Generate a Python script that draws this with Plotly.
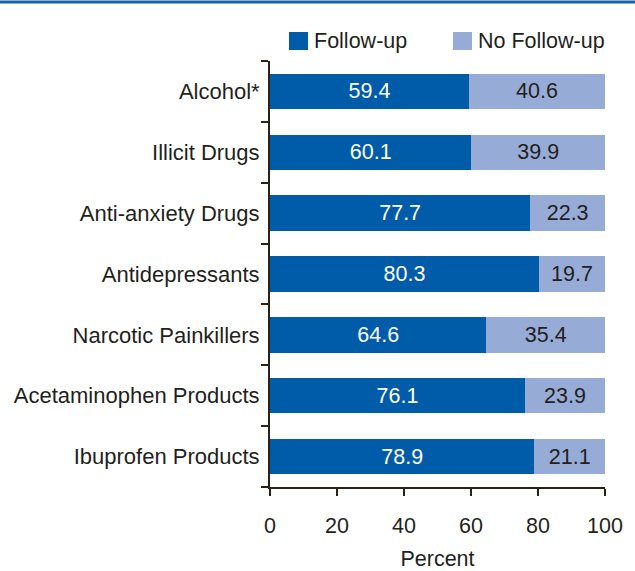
import plotly.graph_objects as go

categories = ["Alcohol*", "Illicit Drugs", "Anti-anxiety Drugs", "Antidepressants",
              "Narcotic Painkillers", "Acetaminophen Products", "Ibuprofen Products"]
follow_up = [59.4, 60.1, 77.7, 80.3, 64.6, 76.1, 78.9]
no_follow_up = [40.6, 39.9, 22.3, 19.7, 35.4, 23.9, 21.1]
x_ticks = [0, 20, 40, 60, 80, 100]
series_names = ["Follow-up", "No Follow-up"]
series_colors = ["#005ba9", "#97abd7"]

FONT = "Liberation Sans, Arial, Helvetica, sans-serif"
TXT = "#231f20"
AX = "#2a2118"
FS = 21.5

fig = go.Figure()
fig.add_trace(go.Bar(
    y=categories, x=follow_up, name=series_names[0], orientation="h",
    marker=dict(color=series_colors[0], line=dict(width=0)),
    text=[f"{v:.1f}" for v in follow_up], textposition="inside",
    insidetextanchor="middle", textangle=0,
    textfont=dict(color="white", size=FS, family=FONT),
))
fig.add_trace(go.Bar(
    y=categories, x=no_follow_up, name=series_names[1], orientation="h",
    marker=dict(color=series_colors[1], line=dict(width=0)),
    text=[f"{v:.1f}" for v in no_follow_up], textposition="inside",
    insidetextanchor="middle", textangle=0,
    textfont=dict(color=TXT, size=FS, family=FONT),
))

W, H = 635, 571
L, R, T, B = 270, 30, 61, 84
pw, ph = W - L - R, H - T - B

def px(xp):
    return (xp - L) / pw

def py(yp):
    return 1 - (yp - T) / ph

# manual legend (boxes + text)
shapes = [dict(type="line", xref="paper", yref="paper",
               x0=px(0), x1=px(W), y0=py(2), y1=py(2),
               line=dict(color="#1a5fa8", width=3))]
annotations = []
legend_box_x = [289, 453]
for name, col, bx in zip(series_names, series_colors, legend_box_x):
    shapes.append(dict(type="rect", xref="paper", yref="paper",
                       x0=px(bx), x1=px(bx + 19), y0=py(50), y1=py(32),
                       fillcolor=col, line=dict(width=0)))
    annotations.append(dict(xref="paper", yref="paper", x=px(bx + 23), y=py(41.5),
                            xanchor="left", yanchor="middle", showarrow=False,
                            text=name, font=dict(size=FS, family=FONT, color=TXT)))

fig.update_layout(
    width=W, height=H,
    margin=dict(l=L, r=R, t=T, b=B, pad=0, autoexpand=False),
    barmode="stack", bargap=0.42,
    paper_bgcolor="white", plot_bgcolor="white",
    font=dict(family=FONT, color=TXT, size=FS),
    showlegend=False,
    xaxis=dict(range=[0, 100], tickvals=x_ticks, ticks="outside", ticklen=7,
               tickwidth=2, tickcolor=AX, showline=True, linecolor=AX, linewidth=2,
               showgrid=False, zeroline=False, fixedrange=True, automargin=False,
               ticklabelstandoff=11,
               tickfont=dict(size=FS, family=FONT, color=TXT),
               title=dict(text="Percent", font=dict(size=FS, family=FONT, color=TXT), standoff=20)),
    yaxis=dict(categoryorder="array", categoryarray=categories[::-1],
               ticks="outside", tickson="boundaries", ticklen=7, tickwidth=2,
               tickcolor=AX, showline=True, linecolor=AX, linewidth=2,
               showgrid=False, zeroline=False, fixedrange=True, automargin=False,
               ticklabelstandoff=4,
               tickfont=dict(size=22, family=FONT, color=TXT)),
    shapes=shapes,
    annotations=annotations,
)

fig.write_html("out.html")
